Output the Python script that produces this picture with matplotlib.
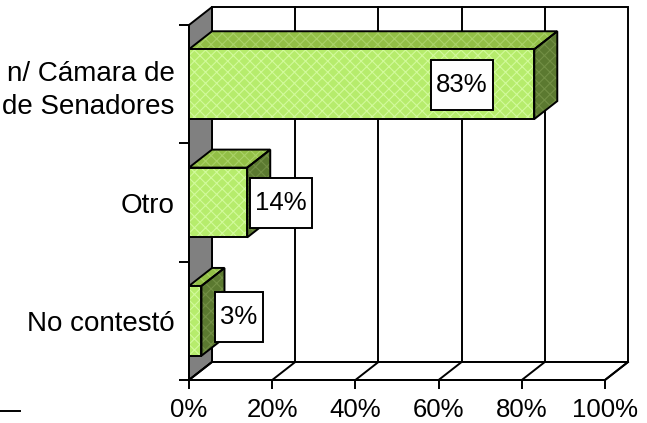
import matplotlib
matplotlib.use("Agg")
import matplotlib.pyplot as plt
from matplotlib.patches import Polygon, Rectangle
from matplotlib.lines import Line2D

plt.rcParams['font.family'] = ['Liberation Sans', 'DejaVu Sans']
plt.rcParams['hatch.linewidth'] = 0.8

# ---- data ----
categories = ["No contestó", "Otro", "n/ Cámara de\nde Senadores"]
values = [3, 14, 83]
value_labels = ["3%", "14%", "83%"]
xticks = [0, 20, 40, 60, 80, 100]
xtick_labels = ["0%", "20%", "40%", "60%", "80%", "100%"]

# ---- style / geometry ----
W, H = 647, 423
fig = plt.figure(figsize=(W / 100, H / 100), dpi=100)
ax = fig.add_axes([189 / W, (H - 380) / H, (605 - 189) / W, (380 - 25) / H])
ax.set_xlim(0, 100)
ax.set_ylim(0, 3)
ax.patch.set_visible(False)

DX = 5.53      # depth offset in x data units
DY = 0.152     # depth offset in y data units
BAR_H = 0.59
EDGE = 'black'
LW = 1.4

front_col, front_hatch = '#b6ec6c', '#d2fa9c'
top_col, top_hatch = '#92bf46', '#aad268'
side_col, side_hatch = '#5b7930', '#728f45'
wall_col = '#808080'

n = len(categories)

# back wall
ax.add_patch(Polygon([(DX, DY), (100 + DX, DY), (100 + DX, n + DY), (DX, n + DY)],
                     closed=True, facecolor='white', edgecolor=EDGE, lw=LW, zorder=1, clip_on=False))
for t in xticks[1:-1]:
    ax.add_line(Line2D([t + DX, t + DX], [DY, n + DY], color=EDGE, lw=LW, zorder=1.1, clip_on=False))

# left wall
ax.add_patch(Polygon([(0, 0), (0, n), (DX, n + DY), (DX, DY)], closed=True,
                     facecolor=wall_col, edgecolor=EDGE, lw=LW, zorder=1.5, clip_on=False))
# floor
ax.add_patch(Polygon([(0, 0), (100, 0), (100 + DX, DY), (DX, DY)], closed=True,
                     facecolor='white', edgecolor=EDGE, lw=LW, zorder=1.5, clip_on=False))
for t in xticks:
    ax.add_line(Line2D([t, t + DX], [0, DY], color=EDGE, lw=LW, zorder=1.6, clip_on=False))


def face(pts, fc, hc, z):
    p = Polygon(pts, closed=True, facecolor=fc, edgecolor=hc, lw=0, hatch='xxx', zorder=z, clip_on=False)
    ax.add_patch(p)
    ax.add_patch(Polygon(pts, closed=True, fill=False, edgecolor=EDGE, lw=LW, zorder=z + 0.01, clip_on=False))


for i, v in enumerate(values):
    c = i + 0.5
    b, t = c - BAR_H / 2, c + BAR_H / 2
    z = 3 + (n - i)
    face([(0, t), (v, t), (v + DX, t + DY), (DX, t + DY)], top_col, top_hatch, z)
    face([(v, b), (v, t), (v + DX, t + DY), (v + DX, b + DY)], side_col, side_hatch, z)
    face([(0, b), (v, b), (v, t), (0, t)], front_col, front_hatch, z + 0.1)

# axes
for s in ['top', 'right']:
    ax.spines[s].set_visible(False)
for s in ['left', 'bottom']:
    ax.spines[s].set_linewidth(LW)
    ax.spines[s].set_zorder(2)
ax.set_xticks(xticks)
ax.set_xticklabels(xtick_labels, fontsize=18.5)
ax.tick_params(axis='x', length=6.5, width=LW, pad=6.5)
ax.set_yticks(range(n + 1))
ax.set_yticklabels([])
ax.tick_params(axis='y', which='major', length=7.5, width=LW)
ax.set_yticks([i + 0.5 for i in range(n)], minor=True)
ax.set_yticklabels(categories, minor=True, fontsize=20, linespacing=1.35)
ax.tick_params(axis='y', which='minor', length=0, pad=10.5)

# data labels with boxes
label_offsets = [9.0, 8.1, -17.4]
label_dy = [0.035, -0.005, -0.003]
texts = []
for i, (v, s) in enumerate(zip(values, value_labels)):
    texts.append(ax.text(v + label_offsets[i], i + 0.5 + label_dy[i], s, ha='center', va='center',
                         fontsize=18.5, zorder=21))
renderer = fig.canvas.get_renderer()
PADX, PADY = 5.0, 13.0
for t in texts:
    bb = t.get_window_extent(renderer)
    fig.patches.append(Rectangle((bb.x0 - PADX, bb.y0 - PADY), bb.width + 2 * PADX, bb.height + 2 * PADY,
                                 transform=None, facecolor='white', edgecolor=EDGE, lw=LW, zorder=20))
for t in texts:
    x, y = ax.transData.transform(t.get_position())
    fig.text(x / W, y / H, t.get_text(), ha='center', va='center', fontsize=18.5, zorder=22)
    t.set_visible(False)

# stray line in lower left of original
fig.add_artist(Line2D([0, 20 / W], [1 - 411 / H, 1 - 411 / H], color=EDGE, lw=LW))

fig.savefig('out.png', dpi=100)
